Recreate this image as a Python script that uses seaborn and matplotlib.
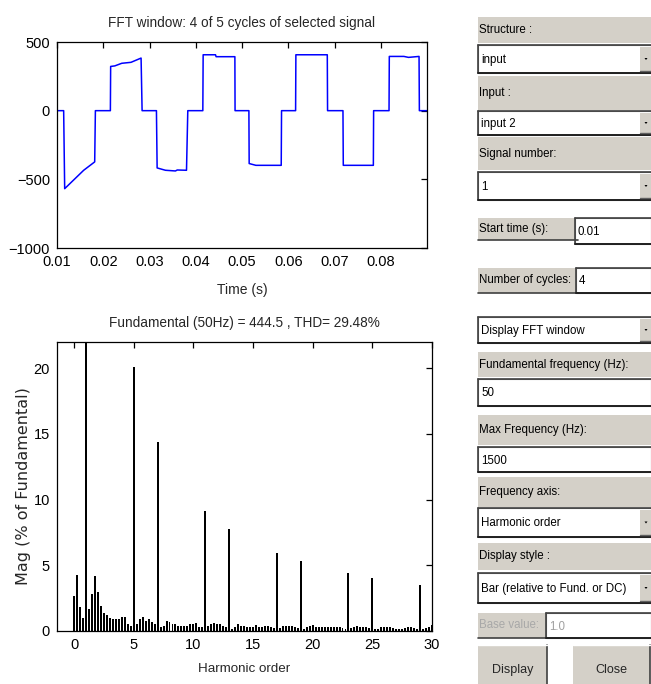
import numpy as np
import pandas as pd
import seaborn as sns
import matplotlib.pyplot as plt
from matplotlib.patches import Rectangle, Polygon
from matplotlib.lines import Line2D

sns.set_style('white')
plt.rcParams['font.family'] = ['Liberation Sans', 'DejaVu Sans']

# time signal of the FFT window (breakpoints)
time_s = [0.0100, 0.01144, 0.01166, 0.01577, 0.01815, 0.01830, 0.02154, 0.02160,
          0.0225, 0.0240, 0.0260, 0.02818, 0.02840, 0.03150, 0.03165, 0.03345,
          0.03561, 0.03600, 0.03800, 0.03828, 0.04153, 0.04160, 0.04427, 0.04440,
          0.04846, 0.04850, 0.05149, 0.05155, 0.05300, 0.05848, 0.05855, 0.06159,
          0.06165, 0.06844, 0.06850, 0.07183, 0.07190, 0.07840, 0.07846, 0.08179,
          0.08185, 0.08500, 0.08600, 0.08828, 0.08835, 0.0900]
signal = [0, 0, -568, -434, -373, 0, 0, 322,
          326, 345, 352, 383, 0, 0, -417, -434,
          -439, -432, -434, 0, 0, 407, 407, 393,
          393, 0, 0, -385, -398, -398, 0, 0,
          407, 407, 0, 0, -398, -398, 0, 0,
          395, 395, 388, 395, 0, 0]

# harmonic spectrum, 0.25 harmonic resolution (4 cycles window)
harmonic = np.arange(0, 30.01, 0.25)
mag = [2.7, 4.3, 1.8, 1.0,
       100, 1.7, 2.85, 4.2,
       2.95, 1.9, 1.4, 1.2,
       1.0, 0.9, 0.9, 0.95,
       1.1, 1.1, 0.55, 0.35,
       20.1, 0.55, 0.9, 1.1,
       0.75, 0.9, 0.7, 0.5,
       14.4, 0.3, 0.38, 0.78,
       0.7, 0.5, 0.5, 0.4,
       0.4, 0.4, 0.4, 0.5,
       0.5, 0.6, 0.28, 0.28,
       9.1, 0.4, 0.5, 0.6,
       0.5, 0.5, 0.4, 0.28,
       7.75, 0.18, 0.28, 0.5,
       0.4, 0.4, 0.28, 0.28,
       0.3, 0.42, 0.3, 0.3,
       0.38, 0.38, 0.3, 0.2,
       5.95, 0.2, 0.38, 0.38,
       0.38, 0.38, 0.3, 0.2,
       5.3, 0.15, 0.3, 0.4,
       0.45, 0.3, 0.28, 0.28,
       0.28, 0.28, 0.28, 0.28,
       0.28, 0.28, 0.25, 0.15,
       4.4, 0.2, 0.3, 0.4,
       0.3, 0.3, 0.3, 0.2,
       4.05, 0.15, 0.15, 0.28,
       0.3, 0.3, 0.28, 0.2,
       0.15, 0.15, 0.15, 0.2,
       0.28, 0.28, 0.2, 0.15,
       3.5, 0.15, 0.2, 0.3,
       0.45]

fund_hz = 50
fund_mag = 444.5
thd = 29.48

W, H = 651, 684
fig = plt.figure(figsize=(W / 100, H / 100), dpi=100)


def fx(x):
    return x / W


def fy(y):
    return 1 - y / H


def matlab_axes(ax):
    for s in ax.spines.values():
        s.set_visible(True)
        s.set_color('black')
        s.set_linewidth(0.9)
    ax.tick_params(direction='in', top=True, right=True, length=4, width=0.9,
                   labelsize=10.5, colors='black', pad=5)


# top: time signal
ax1 = fig.add_axes([fx(57), fy(248), (427 - 57) / W, (248 - 42) / H])
df_t = pd.DataFrame({'t': time_s, 'v': signal})
sns.lineplot(data=df_t, x='t', y='v', sort=False, estimator=None, color='#0000ff', lw=1.1, ax=ax1)
ax1.set_xlim(0.01, 0.09)
ax1.set_ylim(-1000, 500)
ax1.set_xticks([0.01, 0.02, 0.03, 0.04, 0.05, 0.06, 0.07, 0.08])
ax1.set_xticklabels(['0.01', '0.02', '0.03', '0.04', '0.05', '0.06', '0.07', '0.08'])
ax1.set_yticks([-1000, -500, 0, 500])
ax1.set_title('FFT window: 4 of 5 cycles of selected signal', fontsize=9.8, pad=11)
ax1.set_xlabel('Time (s)', fontsize=10, labelpad=10)
ax1.set_ylabel('')
matlab_axes(ax1)

# bottom: spectrum
ax2 = fig.add_axes([fx(57), fy(631), (432 - 57) / W, (631 - 342) / H])
df_f = pd.DataFrame({'h': harmonic, 'mag': mag})
sns.barplot(data=df_f, x='h', y='mag', native_scale=True, width=0.66, color='black',
            saturation=1, edgecolor='none', ax=ax2)
ax2.set_xlim(-1.43, 30)
ax2.set_ylim(0, 22)
ax2.set_xticks([0, 5, 10, 15, 20, 25, 30])
ax2.set_xticklabels(['0', '5', '10', '15', '20', '25', '30'])
ax2.set_yticks([0, 5, 10, 15, 20])
ax2.set_title(f'Fundamental ({fund_hz}Hz) = {fund_mag} , THD= {thd}%', fontsize=9.8, pad=11)
ax2.set_xlabel('Harmonic order', fontsize=9.6, labelpad=8)
ax2.set_ylabel('Mag (% of Fundamental)', fontsize=11.5, family=['DejaVu Sans'], labelpad=2)
matlab_axes(ax2)

# right-hand control panel
GRAY = '#d4d0c8'
DARK = '#404040'
TXT = 8.3


def rect(x0, y0, x1, y1, **kw):
    fig.add_artist(Rectangle((fx(x0), fy(y1)), (x1 - x0) / W, (y1 - y0) / H,
                             transform=fig.transFigure, **kw))


def line(x0, y0, x1, y1, color=DARK, lw=1.2):
    fig.add_artist(Line2D([fx(x0), fx(x1)], [fy(y0), fy(y1)], transform=fig.transFigure,
                          color=color, lw=lw))


def label(text, y0, y1, x1=651, underline=False, color='black'):
    rect(478, y0, x1, y1, facecolor=GRAY, edgecolor='none')
    if underline:
        line(478, y1, x1, y1)
    fig.text(fx(479), fy((y0 + y1) / 2), text, fontsize=TXT, color=color, va='center', ha='left')


def box(text, y0, y1, x0=478, dropdown=False, color='black'):
    rect(x0, y0, 651, y1, facecolor='white', edgecolor='#808080', lw=0.8)
    line(x0, y0, 651, y0)
    line(x0, y0, x0, y1)
    line(x0, y1, 651, y1, color='#202020', lw=1.4)
    if dropdown:
        rect(640, y0 + 2, 651, y1 - 1, facecolor=GRAY, edgecolor='none')
        line(640, y1 - 2, 651, y1 - 2, color='#606060', lw=1)
        cy = (y0 + y1) / 2
        fig.add_artist(Polygon([[fx(644.5), fy(cy - 1)], [fx(647.5), fy(cy - 1)], [fx(646), fy(cy + 1)]],
                               closed=True, transform=fig.transFigure, facecolor='black', lw=0))
    fig.text(fx(x0 + 3), fy((y0 + y1) / 2 + 1), text, fontsize=TXT, color=color, va='center', ha='left')


label('Structure :', 17, 43)
box('input', 45, 73, dropdown=True)
label('Input :', 76, 110)
box('input 2', 111, 135, dropdown=True)
label('Signal number:', 137, 170)
box('1', 172, 200, dropdown=True)
label('Start time (s):', 218, 240, x1=578, underline=True)
box('0.01', 218, 244, x0=575)
label('Number of cycles:', 268, 293, x1=578, underline=True)
box('4', 268, 293, x0=576)
box('Display FFT window', 317, 343, dropdown=True)
label('Fundamental frequency (Hz):', 352, 377)
box('50', 379, 406)
label('Max Frequency (Hz):', 415, 445)
box('1500', 447, 472)
label('Frequency axis:', 477, 507)
box('Harmonic order', 508, 537, dropdown=True)
label('Display style :', 543, 570)
box('Bar (relative to Fund. or DC)', 573, 603, dropdown=True)
label('Base value:', 613, 638, x1=546, underline=True, color='#a8a8a8')
box('1.0', 613, 638, x0=546, color='#a0a0a0')

for name, x0, x1 in [('Display', 478, 547), ('Close', 573, 650)]:
    rect(x0, 645, x1, 684, facecolor=GRAY, edgecolor='none')
    line(x1, 645, x1, 684)
    line(x0, 645, x1, 645, color='white', lw=1)
    fig.text(fx((x0 + x1) / 2), fy(670), name, fontsize=9, ha='center', va='center')

plt.savefig('out.png', dpi=100)
